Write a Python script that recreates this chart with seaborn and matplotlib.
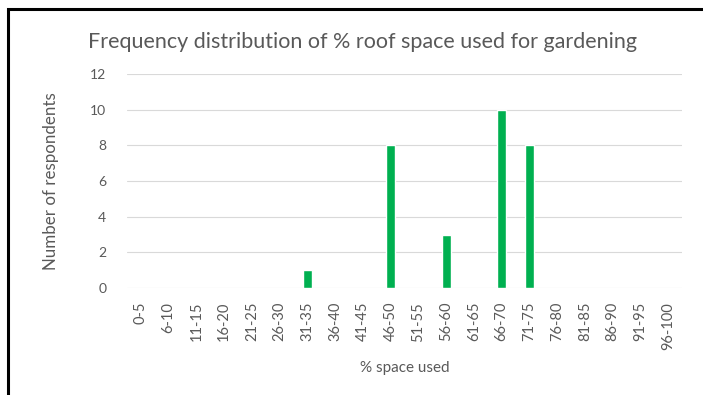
import seaborn as sns
import matplotlib.pyplot as plt
import pandas as pd
from matplotlib.patches import Rectangle

# categories and counts
bins = ['0-5', '6-10', '11-15', '16-20', '21-25', '26-30', '31-35', '36-40', '41-45', '46-50',
        '51-55', '56-60', '61-65', '66-70', '71-75', '76-80', '81-85', '86-90', '91-95', '96-100']
counts = [0, 0, 0, 0, 0, 0, 1, 0, 0, 8, 0, 3, 0, 10, 8, 0, 0, 0, 0, 0]
y_ticks = [0, 2, 4, 6, 8, 10, 12]

df = pd.DataFrame({'Range': bins, 'Count': counts})

sns.set_style('white')
plt.rcParams['font.family'] = ['Lato', 'DejaVu Sans']

fig = plt.figure(figsize=(7.03, 3.95), dpi=100)
ax = fig.add_axes([127 / 703, 1 - 288 / 395, 555 / 703, 214 / 395])

sns.barplot(x='Range', y='Count', data=df, color='#00B050', width=0.33,
            saturation=1, ax=ax, zorder=3)

ax.set_ylim(0, 12)
ax.set_yticks(y_ticks)
ax.grid(axis='y', color='#D9D9D9', linewidth=0.8, zorder=0)
ax.set_axisbelow(True)
for s in ax.spines.values():
    s.set_visible(False)

ax.tick_params(axis='x', rotation=90, colors='#595959', labelsize=10.5, length=0, pad=10)
ax.tick_params(axis='y', colors='#595959', labelsize=10, length=0, pad=15)
ax.set_xlabel('% space used', color='#595959', fontsize=11, labelpad=8)
ax.set_ylabel('Number of respondents', color='#595959', fontsize=12.2, labelpad=22)

fig.text(362 / 703, 1 - 42 / 395, 'Frequency distribution of % roof space used for gardening',
         ha='center', va='center', fontsize=15.5, color='#595959')

# black frame of the cropped screenshot (top and left edges)
fig.add_artist(Rectangle((8 / 703, -0.1), 1.1, 1 - 9 / 395 + 0.1, transform=fig.transFigure,
                         fill=False, edgecolor='black', linewidth=2.2))

fig.savefig('out.png', dpi=100)
